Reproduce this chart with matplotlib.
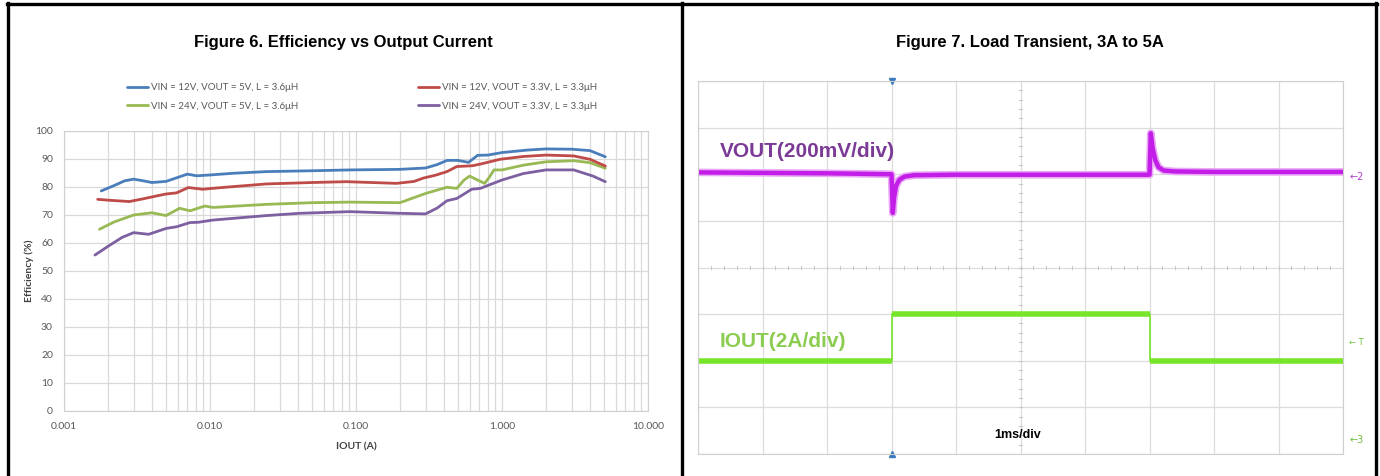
import numpy as np
import matplotlib
matplotlib.use("Agg")
import matplotlib.pyplot as plt
from matplotlib.lines import Line2D

# ---- Figure 6 data: efficiency (%) vs output current (A) ----
labels = ['VIN = 12V, VOUT = 5V, L = 3.6\u03bcH',
          'VIN = 24V, VOUT = 5V, L = 3.6\u03bcH',
          'VIN = 12V, VOUT = 3.3V, L = 3.3\u03bcH',
          'VIN = 24V, VOUT = 3.3V, L = 3.3\u03bcH']
colors = ['#4a7ebb', '#98b954', '#be4b48', '#7d60a0']

iout_12_5 = [0.0018, 0.0022, 0.0026, 0.003, 0.0035, 0.004, 0.005, 0.006, 0.007, 0.0081,
             0.01, 0.0144, 0.0244, 0.05, 0.091, 0.2, 0.3, 0.36, 0.42, 0.5, 0.59, 0.68,
             0.8, 1.0, 1.5, 2.0, 3.0, 4.0, 5.1]
eff_12_5 = [78.6, 80.5, 82.2, 82.8, 82.2, 81.6, 82.0, 83.4, 84.6, 84.0,
            84.3, 84.9, 85.5, 85.8, 86.1, 86.3, 86.8, 88.0, 89.5, 89.5, 88.8, 91.3,
            91.4, 92.3, 93.2, 93.6, 93.5, 93.0, 90.8]

iout_24_5 = [0.00175, 0.0022, 0.003, 0.004, 0.005, 0.0062, 0.0073, 0.0092, 0.0105, 0.0244,
             0.05, 0.091, 0.2, 0.3, 0.42, 0.49, 0.55, 0.6, 0.68, 0.76, 0.82, 0.88, 1.0,
             1.4, 2.0, 3.1, 4.0, 5.1]
eff_24_5 = [64.9, 67.5, 70.0, 70.8, 69.8, 72.4, 71.5, 73.2, 72.7, 73.8,
            74.4, 74.6, 74.4, 77.7, 79.9, 79.5, 82.5, 83.9, 82.5, 81.3, 83.5, 86.1, 86.1,
            87.8, 89.0, 89.4, 88.7, 86.7]

iout_12_33 = [0.0017, 0.002, 0.0028, 0.0035, 0.0043, 0.005, 0.0059, 0.0071, 0.0089, 0.012,
              0.0244, 0.05, 0.086, 0.19, 0.25, 0.29, 0.35, 0.42, 0.49, 0.63, 0.74, 0.97,
              1.4, 2.0, 3.1, 4.0, 5.1]
eff_12_33 = [75.6, 75.3, 74.8, 75.8, 76.8, 77.5, 77.9, 79.8, 79.2, 79.8,
             81.1, 81.6, 81.9, 81.3, 82.0, 83.2, 84.2, 85.5, 87.3, 87.6, 88.4, 89.9,
             90.9, 91.4, 91.1, 89.9, 87.5]

iout_24_33 = [0.00163, 0.002, 0.0025, 0.003, 0.0038, 0.005, 0.0059, 0.0073, 0.0083, 0.0105,
              0.0244, 0.041, 0.091, 0.2, 0.3, 0.36, 0.42, 0.49, 0.55, 0.62, 0.71, 1.0,
              1.4, 2.0, 3.1, 4.2, 5.1]
eff_24_33 = [55.7, 58.8, 62.0, 63.7, 63.1, 65.2, 65.8, 67.3, 67.4, 68.2,
             69.8, 70.6, 71.2, 70.6, 70.4, 72.5, 75.1, 75.9, 77.5, 79.2, 79.5, 82.5,
             84.8, 86.1, 86.1, 83.9, 81.9]

series = [(iout_12_5, eff_12_5), (iout_24_5, eff_24_5),
          (iout_12_33, eff_12_33), (iout_24_33, eff_24_33)]

x_ticks = [0.001, 0.01, 0.1, 1, 10]
x_ticklabels = ['0.001', '0.010', '0.100', '1.000', '10.000']
y_ticks = list(range(0, 101, 10))

# ---- Figure 7 data: scope traces, in divisions ----
vout_t = [0.0, 1.0, 2.0, 3.0, 3.01, 3.02, 3.04, 3.07, 3.12, 3.2, 3.35, 4.0, 5.0, 6.0, 7.0,
          7.02, 7.05, 7.09, 7.14, 7.22, 7.4, 8.0, 9.0, 10.0]
vout_div = [6.04, 6.03, 6.02, 6.0, 5.6, 5.17, 5.5, 5.75, 5.88, 5.95, 5.98, 5.99, 5.99, 5.99, 5.99,
            6.88, 6.55, 6.3, 6.15, 6.08, 6.06, 6.05, 6.05, 6.05]
iout_t = [0.0, 3.0, 3.0, 7.0, 7.0, 10.0]
iout_div = [2.0, 2.0, 3.0, 3.0, 2.0, 2.0]
trigger_t = 3.0

W, H = 1380, 476
fig = plt.figure(figsize=(W / 100, H / 100), dpi=100)

# table borders
bk = dict(color='black', lw=2.4, transform=fig.transFigure, clip_on=False)
fig.add_artist(Line2D([7 / W, 1377 / W], [1 - 4 / H, 1 - 4 / H], **bk))
for xp in [8, 682, 1376]:
    fig.add_artist(Line2D([xp / W, xp / W], [0, 1 - 3 / H], **bk))

fig.text(343 / W, 1 - 43 / H, 'Figure 6. Efficiency vs Output Current', ha='center', va='center',
         fontsize=12, fontweight='bold', family='Liberation Sans')
fig.text(1030 / W, 1 - 43 / H, 'Figure 7. Load Transient, 3A to 5A', ha='center', va='center',
         fontsize=12, fontweight='bold', family='Liberation Sans')

# ---------- left: efficiency ----------
gray = '#595959'
xl = 'Lato'
ax = fig.add_axes([64 / W, 1 - 411 / H, (648 - 64) / W, (411 - 131) / H])
handles = []
for (xs, ys), c, lab in zip(series, colors, labels):
    h, = ax.plot(xs, ys, color=c, lw=2, label=lab, solid_capstyle='round')
    handles.append(h)
ax.set_xscale('log')
ax.set_xlim(0.001, 10)
ax.set_ylim(0, 100)
ax.set_xticks(x_ticks)
ax.set_xticklabels(x_ticklabels)
ax.set_yticks(y_ticks)
ax.grid(True, which='major', color='#d9d9d9', lw=0.9)
ax.grid(True, which='minor', axis='x', color='#d9d9d9', lw=0.9)
ax.tick_params(which='both', length=0, labelsize=7.5, labelcolor=gray, pad=8)
for t in ax.get_xticklabels() + ax.get_yticklabels():
    t.set_family(xl)
for s in ax.spines.values():
    s.set_color('#d0d0d0')
ax.set_xlabel('IOUT (A)', fontsize=7.5, fontweight='bold', color='#404040', labelpad=8, family=xl)
ax.set_ylabel('Efficiency (%)', fontsize=7.5, fontweight='bold', color='#404040', labelpad=1,
              family=xl)
leg = fig.legend(handles, labels, ncol=2, loc='center', bbox_to_anchor=(362 / W, 1 - 97 / H),
                 frameon=False, prop={'family': xl, 'size': 7}, handlelength=2.2,
                 handletextpad=0.3, columnspacing=12.3, labelspacing=1.0)
for t in leg.get_texts():
    t.set_color(gray)

# ---------- right: scope ----------
sx = fig.add_axes([698 / W, 1 - 454 / H, (1343 - 698) / W, (454 - 81) / H])
sx.set_xlim(0, 10)
sx.set_ylim(0, 8)
sx.set_xticks(range(11))
sx.set_yticks(range(9))
sx.grid(True, color='#dcdcdc', lw=0.9)
sx.tick_params(length=0, labelbottom=False, labelleft=False)
for s in sx.spines.values():
    s.set_color('#cfcfcf')
# center cross minor ticks
for k in range(1, 50):
    xk = k * 0.2
    sx.plot([xk, xk], [3.96, 4.04], color='#c8c8c8', lw=0.8)
for k in range(1, 40):
    yk = k * 0.2
    sx.plot([4.97, 5.03], [yk, yk], color='#c8c8c8', lw=0.8)

sx.plot(vout_t, vout_div, color='#eaa8f6', lw=5.5, solid_joinstyle='round')
sx.plot(vout_t, vout_div, color='#c21ee8', lw=3.2, solid_joinstyle='round')
sx.plot(iout_t, iout_div, color='#77e52a', lw=1.2)
for i in range(len(iout_t) - 1):
    if iout_div[i] == iout_div[i + 1]:
        sx.plot(iout_t[i:i + 2], iout_div[i:i + 2], color='#77e52a', lw=4, solid_capstyle='butt')

sx.plot([trigger_t], [8], marker='v', color='#3a7ac0', ms=5, clip_on=False)
sx.plot([trigger_t], [0], marker='^', color='#3a7ac0', ms=5, clip_on=False)

sx.text(0.34, 6.37, 'VOUT(200mV/div)', fontsize=15, fontweight='bold', color='#7b3a96',
        family='Liberation Sans', ha='left', va='baseline')
sx.text(0.34, 2.3, 'IOUT(2A/div)', fontsize=15, fontweight='bold', color='#8ccc50',
        family='Liberation Sans', ha='left', va='baseline')
sx.text(4.59, 0.34, '1ms/div', fontsize=9, fontweight='bold', color='black',
        family='Liberation Sans', ha='left', va='baseline')
sx.text(10.1, 5.95, '\u21902', fontsize=7, color='#b040c8', ha='left', va='center', clip_on=False)
sx.text(10.1, 2.4, '\u2190 T', fontsize=6, color='#70c040', ha='left', va='center', clip_on=False)
sx.text(10.1, 0.3, '\u21903', fontsize=7, color='#70c040', ha='left', va='center', clip_on=False)

fig.savefig('out.png', dpi=100)
